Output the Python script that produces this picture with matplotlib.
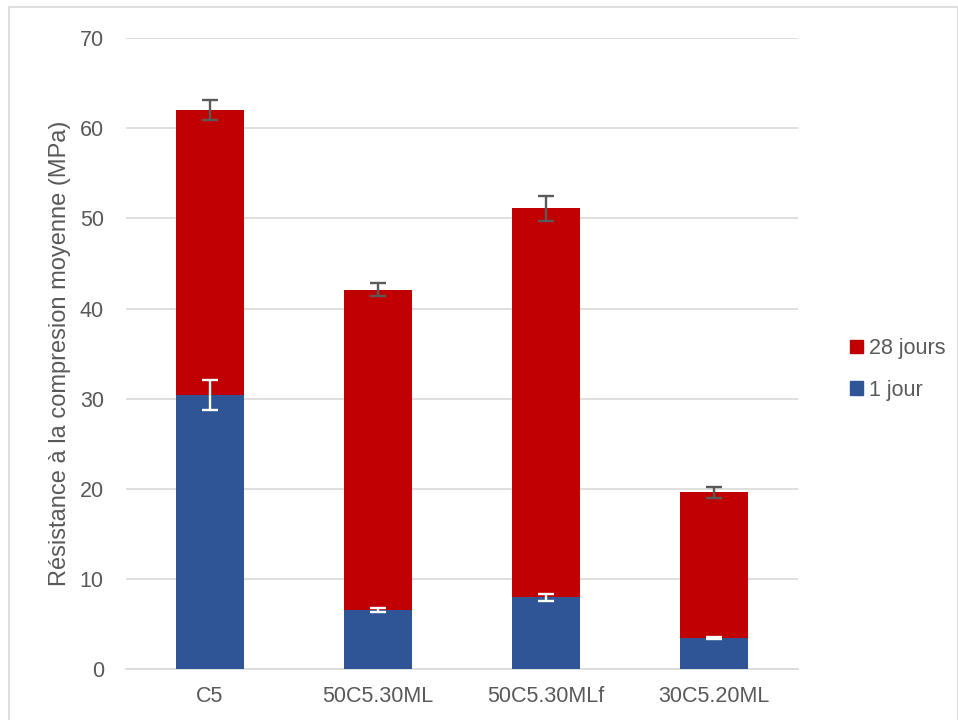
import matplotlib
matplotlib.use("Agg")
import matplotlib.pyplot as plt
from matplotlib.patches import Rectangle, Patch
import numpy as np

plt.rcParams["font.family"] = ["Liberation Sans", "DejaVu Sans"]

categories = ["C5", "50C5.30ML", "50C5.30MLf", "30C5.20ML"]
jours28 = [62.0, 42.1, 51.1, 19.6]
jours28_err = [1.1, 0.75, 1.4, 0.6]
jour1 = [30.4, 6.55, 7.95, 3.45]
jour1_err = [1.7, 0.2, 0.4, 0.12]

red = "#C00000"
blue = "#2F5597"
txt = "#595959"
grid = "#D9D9D9"

fig = plt.figure(figsize=(9.58, 7.2), dpi=100)
ax = fig.add_axes([0.1315, 0.0708, 0.7015, 0.8762])

x = np.arange(len(categories))
w = 0.4
ax.bar(x, jours28, w, color=red, zorder=2)
ax.errorbar(x, jours28, yerr=jours28_err, fmt="none", ecolor=txt, elinewidth=1.7,
            capsize=6, capthick=1.7, zorder=3)
ax.bar(x, jour1, w, color=blue, zorder=4)
ax.errorbar(x, jour1, yerr=jour1_err, fmt="none", ecolor="white", elinewidth=1.7,
            capsize=6, capthick=1.7, zorder=5)

ax.set_ylim(0, 70)
ax.set_xlim(-0.5, len(categories) - 0.5)
ax.set_yticks(range(0, 71, 10))
ax.set_xticks(x)
ax.set_xticklabels(categories)
ax.tick_params(axis="both", length=0, labelsize=15.5, colors=txt)
ax.tick_params(axis="x", pad=12)
ax.tick_params(axis="y", pad=16)
ax.yaxis.grid(True, color=grid, linewidth=1.2, zorder=0)
ax.axhline(0, color=grid, linewidth=1.2, zorder=1, clip_on=False)
ax.set_axisbelow(True)
for s in ax.spines.values():
    s.set_visible(False)
ax.set_ylabel("Résistance à la compresion moyenne (MPa)", fontsize=17, color=txt, labelpad=6)

handles = [Patch(color=red, label="28 jours"), Patch(color=blue, label="1 jour")]
fig.legend(handles=handles, loc="center left", bbox_to_anchor=(0.867, 0.487), frameon=False,
           fontsize=15.5, labelcolor=txt, handlelength=0.6, handleheight=0.6,
           handletextpad=0.3, labelspacing=0.95)

fig.patches.append(Rectangle((0.0095, -0.01), 0.99, 1.0, transform=fig.transFigure,
                             fill=False, edgecolor=grid, linewidth=1.2))

fig.savefig("out.png", dpi=100)
